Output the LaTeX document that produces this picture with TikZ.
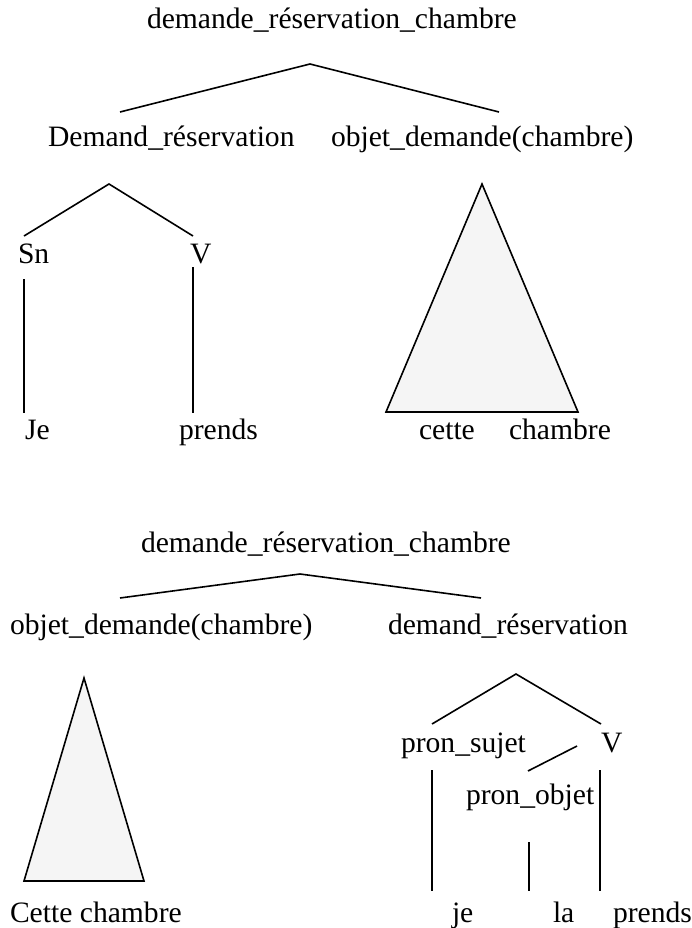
\documentclass[tikz,border=0pt]{standalone}
\usepackage{fontspec}
\setmainfont{Liberation Serif}
\definecolor{trifill}{HTML}{F5F5F5}
\begin{document}
\begin{tikzpicture}[x=1pt,y=-1pt,
  lbl/.style={inner sep=0pt,outer sep=0pt,anchor=base west,font=\fontsize{29.6}{33}\selectfont},
  edge/.style={line width=1.6pt,line cap=butt},
  tri/.style={line width=1.6pt,fill=trifill,line join=miter}]
\useasboundingbox (0,0) rectangle (691,928);
% ---------- top tree ----------
\node[lbl] (t1) at (147,29) {demande\_réservation\_chambre};
\node[lbl] (d1) at (48,147) {Demand\_réservation};
\node[lbl] (o1) at (331,147) {objet\_demande(chambre)};
\coordinate (a1) at (310,64);
\coordinate (a1l) at (120,112);
\coordinate (a1r) at (499,112);
\draw[edge] (a1l) -- (a1) -- (a1r);
\coordinate (a2) at (109,184);
\coordinate (a2l) at (24,236);
\coordinate (a2r) at (193,236);
\draw[edge] (a2l) -- (a2) -- (a2r);
\node[lbl] (sn) at (18,263) {Sn};
\node[lbl] (v1) at (190,263) {V};
\coordinate (sn1) at (24,279);
\coordinate (sn2) at (24,413);
\coordinate (v1a) at (193,267);
\coordinate (v1b) at (193,413);
\draw[edge] (sn1) -- (sn2);
\draw[edge] (v1a) -- (v1b);
\node[lbl] (je1) at (25,439) {Je};
\node[lbl] (pr1) at (179,439) {prends};
\coordinate (tA) at (482,184);
\coordinate (tB) at (386,412);
\coordinate (tC) at (578,412);
\draw[tri] (tA) -- (tB) -- (tC) -- cycle;
\node[lbl] (ce1) at (419,439) {cette};
\node[lbl] (ch1) at (509,439) {chambre};
% ---------- bottom tree ----------
\node[lbl] (t2) at (141,552) {demande\_réservation\_chambre};
\coordinate (b1) at (300,574);
\coordinate (b1l) at (120,598);
\coordinate (b1r) at (481,598);
\draw[edge] (b1l) -- (b1) -- (b1r);
\node[lbl] (o2) at (10,634) {objet\_demande(chambre)};
\node[lbl] (d2) at (388,634) {demand\_réservation};
\coordinate (uA) at (84,678);
\coordinate (uB) at (24,881);
\coordinate (uC) at (144,881);
\draw[tri] (uA) -- (uB) -- (uC) -- cycle;
\node[lbl] (cc2) at (10,922) {Cette chambre};
\coordinate (b2) at (516,674);
\coordinate (b2l) at (432,724);
\coordinate (b2r) at (601,724);
\draw[edge] (b2l) -- (b2) -- (b2r);
\node[lbl] (ps) at (401,752) {pron\_sujet};
\node[lbl] (v2) at (601,752) {V};
\coordinate (po1) at (577,746);
\coordinate (po2) at (528,771);
\draw[edge] (po1) -- (po2);
\node[lbl] (po) at (466,804) {pron\_objet};
\coordinate (l1a) at (432,770);
\coordinate (l1b) at (432,891);
\coordinate (l2a) at (529,842);
\coordinate (l2b) at (529,891);
\coordinate (l3a) at (600,770);
\coordinate (l3b) at (600,891);
\draw[edge] (l1a) -- (l1b);
\draw[edge] (l2a) -- (l2b);
\draw[edge] (l3a) -- (l3b);
\node[lbl] (je2) at (452,922) {je};
\node[lbl] (la2) at (553,922) {la};
\node[lbl] (pr2) at (613,922) {prends};
\end{tikzpicture}
\end{document}
